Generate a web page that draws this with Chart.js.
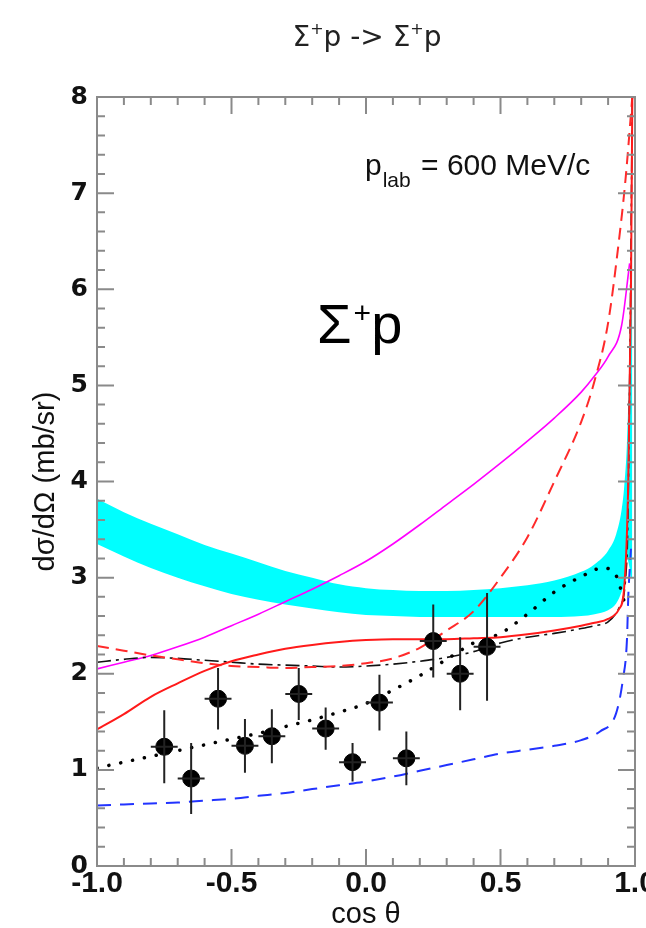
<!DOCTYPE html>
<html>
<head>
<meta charset="utf-8">
<script src="https://cdn.jsdelivr.net/npm/chart.js@4.4.1/dist/chart.umd.min.js"></script>
<style>
  html, body { margin: 0; padding: 0; background: #fff; }
  #wrap { width: 646px; height: 928px; }
</style>
</head>
<body>
<div id="wrap"><canvas id="xsec" width="646" height="928"></canvas></div>
<script>
// measured points (cos theta bins)
const dataX = [-0.75, -0.65, -0.55, -0.45, -0.35, -0.25, -0.15, -0.05, 0.05, 0.15, 0.25, 0.35, 0.45];
const dataY = [1.24, 0.91, 1.74, 1.25, 1.35, 1.79, 1.43, 1.08, 1.70, 1.12, 2.34, 2.00, 2.28];
const dataErr = [0.38, 0.37, 0.32, 0.28, 0.28, 0.27, 0.22, 0.20, 0.29, 0.28, 0.38, 0.38, 0.56];
const dataXErr = 0.05;

const xBase = [-1.0, -0.9, -0.8, -0.7, -0.6, -0.5, -0.4, -0.3, -0.2, -0.1, 0.0, 0.1, 0.2, 0.3, 0.4, 0.5, 0.6, 0.7, 0.8];

// cyan band
const bandX = xBase.concat([0.85, 0.9, 0.93, 0.95, 0.96, 0.97, 0.98, 0.985, 0.99]);
const bandHi = [3.82, 3.68, 3.56, 3.45, 3.34, 3.25, 3.16, 3.07, 3.00, 2.93, 2.89, 2.87, 2.86, 2.86, 2.87, 2.89, 2.92, 2.97, 3.06,
  3.14, 3.28, 3.45, 3.70, 3.95, 4.40, 5.40, 6.30, 6.60];
const bandLo = [3.35, 3.22, 3.10, 3.00, 2.91, 2.83, 2.77, 2.72, 2.68, 2.64, 2.61, 2.60, 2.59, 2.59, 2.59, 2.59, 2.59, 2.59, 2.60,
  2.62, 2.66, 2.73, 2.85, 2.95, 3.20, 3.10, 3.00, 3.00];

// magenta solid
const magX = xBase.concat([0.85, 0.9, 0.95, 0.98]);
const magY = [2.05, 2.12, 2.19, 2.28, 2.38, 2.50, 2.62, 2.75, 2.88, 3.02, 3.17, 3.35, 3.55, 3.76, 3.97, 4.19, 4.42, 4.66, 4.93,
  5.10, 5.30, 5.62, 6.27];

// red dashed
const redDashX = xBase.concat([0.85, 0.9, 0.94, 0.965, 0.99]);
const redDashY = [2.29, 2.24, 2.19, 2.15, 2.11, 2.08, 2.07, 2.06, 2.07, 2.08, 2.11, 2.16, 2.27, 2.45, 2.65, 3.00, 3.42, 4.00, 4.62,
  5.05, 5.65, 6.50, 7.15, 8.0];

// red solid
const redX = xBase.concat([0.85, 0.9, 0.94, 0.96, 0.975, 0.985, 0.99]);
const redY = [1.42, 1.58, 1.76, 1.90, 2.03, 2.13, 2.20, 2.26, 2.30, 2.33, 2.35, 2.36, 2.36, 2.36, 2.37, 2.38, 2.41, 2.45, 2.50,
  2.53, 2.57, 2.67, 2.90, 4.0, 6.0, 8.0];

// black dash-dot
const dashDotX = xBase.concat([0.85, 0.9, 0.94, 0.97, 0.98, 0.99]);
const dashDotY = [2.12, 2.15, 2.17, 2.16, 2.14, 2.12, 2.10, 2.09, 2.08, 2.07, 2.08, 2.10, 2.13, 2.17, 2.23, 2.32, 2.38, 2.42, 2.47,
  2.50, 2.54, 2.68, 3.2, 5.0, 8.0];

// black dotted
const dotX = xBase.concat([0.88, 0.93, 0.96]);
const dotY = [1.02, 1.08, 1.14, 1.20, 1.26, 1.32, 1.38, 1.45, 1.52, 1.60, 1.69, 1.83, 1.98, 2.15, 2.32, 2.42, 2.62, 2.85, 3.01,
  3.10, 3.02, 2.75];

// blue dashed
const blueX = xBase.concat([0.87, 0.93, 0.955, 0.97, 0.975, 0.985]);
const blueY = [0.63, 0.64, 0.65, 0.66, 0.68, 0.70, 0.73, 0.76, 0.80, 0.84, 0.88, 0.93, 0.99, 1.05, 1.11, 1.17, 1.21, 1.25, 1.31,
  1.40, 1.59, 1.94, 2.35, 2.8, 3.3];

const xTicks = [-1.0, -0.5, 0.0, 0.5, 1.0];
const yTicks = [0, 1, 2, 3, 4, 5, 6, 7, 8];

const pts = (xs, ys) => xs.map((x, i) => ({ x: x, y: ys[i] }));

function curve(xs, ys, color, width, dash, order) {
  return {
    type: 'line',
    data: pts(xs, ys),
    borderColor: color,
    borderWidth: width,
    borderDash: dash,
    pointRadius: 0,
    fill: false,
    cubicInterpolationMode: 'monotone',
    order: order
  };
}

const dotted = curve(dotX, dotY, '#000', 3.5, [0.1, 12], 3);
dotted.borderCapStyle = 'round';

// frame + inward ticks, ROOT style
const framePlugin = {
  id: 'frame',
  afterDraw(chart) {
    const ctx = chart.ctx;
    const a = chart.chartArea;
    const xs = chart.scales.x, ys = chart.scales.y;
    ctx.save();
    ctx.strokeStyle = '#8a8a8a';
    ctx.lineWidth = 2;
    ctx.beginPath();
    for (let i = 0; i <= 20; i++) {
      const v = -1 + i * 0.1;
      const px = xs.getPixelForValue(v);
      const len = (i % 5 === 0) ? 17 : 8;
      ctx.moveTo(px, a.bottom); ctx.lineTo(px, a.bottom - len);
      ctx.moveTo(px, a.top); ctx.lineTo(px, a.top + len);
    }
    for (let i = 0; i <= 40; i++) {
      const v = i * 0.2;
      const py = ys.getPixelForValue(v);
      const len = (i % 5 === 0) ? 17 : 8;
      ctx.moveTo(a.left, py); ctx.lineTo(a.left + len, py);
      ctx.moveTo(a.right, py); ctx.lineTo(a.right - len, py);
    }
    ctx.stroke();
    ctx.strokeRect(a.left, a.top, a.right - a.left, a.bottom - a.top);
    ctx.restore();
  }
};

// error bars for the measured points
const errorBars = {
  id: 'errorBars',
  afterDatasetsDraw(chart) {
    const ctx = chart.ctx;
    const xs = chart.scales.x, ys = chart.scales.y;
    ctx.save();
    ctx.strokeStyle = '#222';
    ctx.lineWidth = 2;
    ctx.beginPath();
    dataX.forEach((x, i) => {
      const px = xs.getPixelForValue(x);
      const py = ys.getPixelForValue(dataY[i]);
      ctx.moveTo(px, ys.getPixelForValue(dataY[i] + dataErr[i]));
      ctx.lineTo(px, ys.getPixelForValue(dataY[i] - dataErr[i]));
      ctx.moveTo(xs.getPixelForValue(x - dataXErr), py);
      ctx.lineTo(xs.getPixelForValue(x + dataXErr), py);
    });
    ctx.stroke();
    ctx.restore();
  }
};

function drawParts(ctx, parts, x, y) {
  let cx = x;
  parts.forEach(p => {
    ctx.font = p.font;
    ctx.fillText(p.t, cx, y + (p.dy || 0));
    cx += ctx.measureText(p.t).width + (p.gap || 0);
  });
  return cx;
}

function partsWidth(ctx, parts) {
  let w = 0;
  parts.forEach(p => { ctx.font = p.font; w += ctx.measureText(p.t).width + (p.gap || 0); });
  return w;
}

const labels = {
  id: 'labels',
  afterDraw(chart) {
    const ctx = chart.ctx;
    ctx.save();
    ctx.textBaseline = 'alphabetic';
    ctx.textAlign = 'left';

    // title
    ctx.fillStyle = '#222';
    const tf = '28px "DejaVu Sans"', sf = '16px "DejaVu Sans"';
    const title = [
      { t: 'Σ', font: tf }, { t: '+', font: sf, dy: -12 }, { t: 'p -> ', font: tf },
      { t: 'Σ', font: tf }, { t: '+', font: sf, dy: -12 }, { t: 'p', font: tf }
    ];
    const tw = partsWidth(ctx, title);
    drawParts(ctx, title, 367 - tw / 2, 46);

    // momentum label
    ctx.fillStyle = '#111';
    const mf = '30px "Liberation Sans"';
    drawParts(ctx, [
      { t: 'p', font: mf, gap: 1 },
      { t: 'lab', font: '21px "Liberation Sans"', dy: 12, gap: 2 },
      { t: ' = 600 MeV/c', font: mf }
    ], 365, 175);

    // big reaction label
    ctx.fillStyle = '#000';
    const bf = '56px "Liberation Sans"';
    drawParts(ctx, [
      { t: 'Σ', font: bf, gap: 2 },
      { t: '+', font: '30px "Liberation Sans"', dy: -20 },
      { t: 'p', font: bf }
    ], 317, 343);
    ctx.restore();
  }
};

new Chart(document.getElementById('xsec'), {
  type: 'scatter',
  data: {
    datasets: [
      {
        type: 'scatter',
        data: pts(dataX, dataY),
        backgroundColor: '#000',
        borderColor: '#000',
        pointRadius: 8.5,
        pointHoverRadius: 8.5,
        order: 0
      },
      curve(redX, redY, '#ff1a1a', 2, [], 1),
      curve(redDashX, redDashY, '#ff2a2a', 2, [12, 7], 2),
      dotted,
      curve(dashDotX, dashDotY, '#111', 1.6, [14, 5, 3, 5], 4),
      curve(magX, magY, '#ff00ff', 1.6, [], 5),
      curve(blueX, blueY, '#2233ff', 2, [14, 9], 6),
      {
        type: 'line',
        data: pts(bandX, bandLo),
        borderWidth: 0,
        borderColor: 'rgba(0,0,0,0)',
        pointRadius: 0,
        fill: false,
        cubicInterpolationMode: 'monotone',
        order: 20
      },
      {
        type: 'line',
        data: pts(bandX, bandHi),
        borderWidth: 0,
        borderColor: 'rgba(0,0,0,0)',
        backgroundColor: '#00ffff',
        pointRadius: 0,
        fill: '-1',
        cubicInterpolationMode: 'monotone',
        order: 19
      }
    ]
  },
  options: {
    responsive: false,
    animation: false,
    events: [],
    layout: { padding: { top: 97, right: 11, left: 0, bottom: 0 } },
    plugins: {
      legend: { display: false },
      tooltip: { enabled: false }
    },
    scales: {
      x: {
        type: 'linear',
        min: -1,
        max: 1,
        grid: { display: false, drawTicks: false },
        border: { display: false },
        afterBuildTicks: s => { s.ticks = xTicks.map(v => ({ value: v })); },
        ticks: {
          callback: v => v.toFixed(1),
          color: '#111',
          padding: 0,
          maxRotation: 0,
          autoSkip: false,
          font: { family: 'Liberation Sans', size: 30, weight: 'bold' }
        },
        title: {
          display: true,
          text: 'cos θ',
          color: '#111',
          padding: { top: 0, bottom: 0 },
          font: { family: 'Liberation Sans', size: 29, lineHeight: 0.9 }
        },
        afterFit: s => { s.height = 62; s.paddingLeft = 0; s.paddingRight = 0; }
      },
      y: {
        type: 'linear',
        min: 0,
        max: 8,
        grid: { display: false, drawTicks: false },
        border: { display: false },
        afterBuildTicks: s => { s.ticks = yTicks.map(v => ({ value: v })); },
        ticks: {
          color: '#111',
          padding: 9,
          font: { family: 'DejaVu Sans', size: 25, weight: 'bold' }
        },
        title: {
          display: true,
          text: 'dσ/dΩ (mb/sr)',
          color: '#111',
          padding: { top: 29, bottom: 0 },
          font: { family: 'Liberation Sans', size: 29 }
        },
        afterFit: s => { s.width = 97; s.paddingTop = 0; s.paddingBottom = 0; }
      }
    }
  },
  plugins: [framePlugin, errorBars, labels]
});
</script>
</body>
</html>
